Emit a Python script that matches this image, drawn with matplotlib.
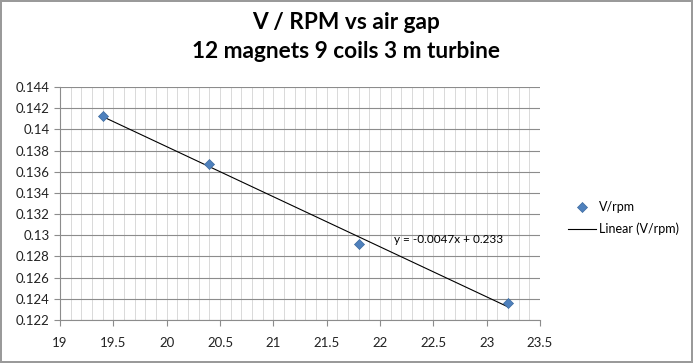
import numpy as np
import matplotlib.pyplot as plt
from matplotlib.ticker import MultipleLocator, FuncFormatter

# air gap (mm) vs V/rpm
air_gap = [19.4, 20.4, 21.8, 23.2]
v_rpm = [0.1413, 0.1367, 0.1292, 0.1236]

title = 'V / RPM vs air gap\n12 magnets 9 coils 3 m turbine'

plt.rcParams['font.family'] = ['Lato', 'DejaVu Sans']

fig = plt.figure(figsize=(6.93, 3.63), dpi=100)
fig.patch.set_edgecolor('#9a9a9a')
fig.patch.set_linewidth(1.5)
ax = fig.add_axes([0.0866, 0.1185, 0.6926, 0.6415])

ax.scatter(air_gap, v_rpm, marker='D', s=26, color='#4F81BD',
           edgecolor='#3C6A9E', linewidth=0.5, zorder=3, label='V/rpm')

slope, icpt = np.polyfit(air_gap, v_rpm, 1)
xs = np.array([air_gap[0], air_gap[-1]])
ax.plot(xs, slope * xs + icpt, color='black', lw=0.8, zorder=2,
        label='Linear (V/rpm)')
ax.text(22.13, 0.1296, f'y = {slope:.4f}x + {icpt:.3f}', fontsize=8.5,
        va='center', ha='left', color='black')

ax.set_xlim(19, 23.5)
ax.set_ylim(0.122, 0.144)
ax.xaxis.set_major_locator(MultipleLocator(0.5))
ax.xaxis.set_minor_locator(MultipleLocator(0.1))
ax.yaxis.set_major_locator(MultipleLocator(0.002))
ax.yaxis.set_major_formatter(FuncFormatter(lambda v, p: f'{v:.3f}'.rstrip('0')))
ax.xaxis.set_major_formatter(FuncFormatter(lambda v, p: f'{v:g}'))

ax.grid(which='major', axis='y', color='#8c8c8c', lw=0.8)
ax.grid(which='both', axis='x', color='#d9d9d9', lw=0.7)
ax.set_axisbelow(True)
for s in ['top', 'right']:
    ax.spines[s].set_visible(False)
for s in ['left', 'bottom']:
    ax.spines[s].set_color('#8c8c8c')
ax.tick_params(which='major', length=4, color='#8c8c8c', labelsize=9.5,
               labelcolor='#222222')
ax.tick_params(axis='x', which='major', pad=8)
ax.tick_params(which='minor', length=0)

fig.text(0.5, 0.898, title, ha='center', va='center', fontsize=16.3,
         fontweight='bold', linespacing=1.45)

ax.legend(loc='center left', bbox_to_anchor=(1.035, 0.438), frameon=False,
          fontsize=9, handlelength=2.2, handletextpad=0.3, labelspacing=0.8)

fig.savefig('out.png', dpi=100)
